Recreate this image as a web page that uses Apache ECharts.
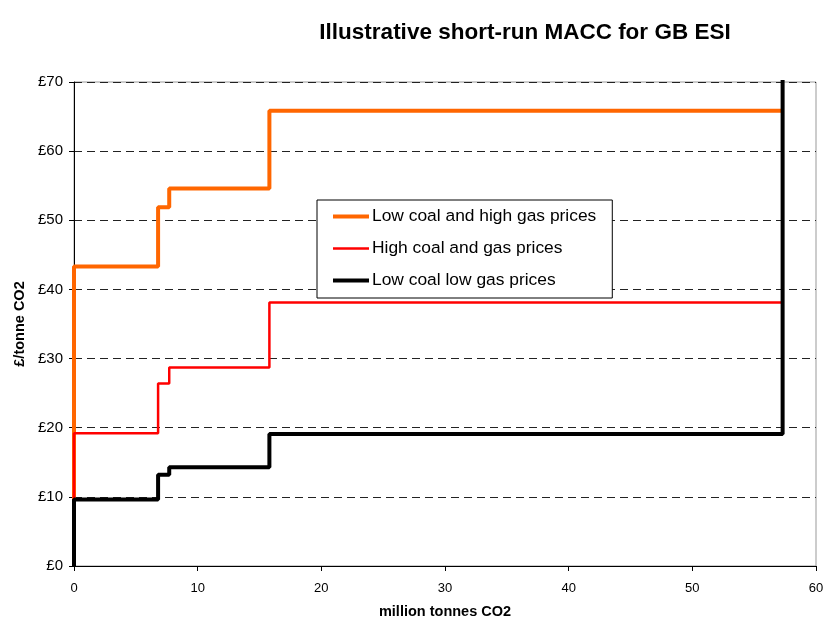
<!DOCTYPE html>
<html><head><meta charset="utf-8">
<script src="https://cdn.jsdelivr.net/npm/echarts@6/dist/echarts.min.js"></script>
<style>html,body{margin:0;padding:0;background:#fff}#c{width:823px;height:617px}</style>
</head><body><div id="c"></div>
<script>
const seriesNames = ['Low coal and high gas prices', 'High coal and gas prices', 'Low coal low gas prices'];
const orangeX = [0, 0, 6.8, 7.7, 15.8, 57.3];
const orangeY = [0, 43.3, 51.9, 54.6, 65.85, 65.85];
const redX = [0, 0, 6.8, 7.7, 15.8, 57.3];
const redY = [0, 19.2, 26.4, 28.7, 38.1, 38.1];
const blackX = [0, 0, 6.8, 7.7, 15.8, 57.3, 57.3];
const blackY = [0, 9.6, 13.2, 14.3, 19.1, 19.1, 75];
const yTicks = ['£0','£10','£20','£30','£40','£50','£60','£70'];

const zip = (xs, ys) => xs.map((x, i) => [x, ys[i]]);
const F = 'Liberation Sans, Arial, sans-serif';
const chart = echarts.init(document.getElementById('c'));
chart.setOption({
  animation: false,
  title: { text: 'Illustrative short-run MACC for GB ESI', left: 520, textAlign: 'center', top: 16,
    textStyle: { fontFamily: F, fontSize: 22.5, fontWeight: 'bold', color: '#000' } },
  grid: { left: 74, right: 7, top: 82, bottom: 51, show: true, borderColor: '#999', borderWidth: 1,
    outerBoundsMode: 'none', containLabel: false },
  legend: {
    orient: 'vertical', left: 317, top: 200,
    backgroundColor: '#fff', borderColor: '#000', borderWidth: 1,
    padding: [8, 16, 9, 16], itemGap: 15, itemWidth: 36, itemHeight: 18,
    textStyle: { fontFamily: F, fontSize: 17.4, color: '#000', padding: [0, 0, 0, -2] },
    data: [
      { name: seriesNames[0], icon: 'path://M0,0h36v4h-36z', itemStyle: { color: '#FF6600' } },
      { name: seriesNames[1], icon: 'path://M0,0h36v2.5h-36z', itemStyle: { color: '#FF0000' } },
      { name: seriesNames[2], icon: 'path://M0,0h36v4h-36z', itemStyle: { color: '#000' } }
    ]
  },
  xAxis: {
    type: 'value', min: 0, max: 60, interval: 10,
    name: 'million tonnes CO2', nameLocation: 'middle', nameGap: 38,
    nameTextStyle: { fontFamily: F, fontSize: 14.5, fontWeight: 'bold', color: '#000' },
    axisLine: { onZero: false, lineStyle: { color: '#000', width: 1 } },
    axisTick: { show: true, length: 5, lineStyle: { color: '#000' } },
    axisLabel: { fontFamily: F, fontSize: 13, color: '#000', margin: 16 },
    splitLine: { show: false }
  },
  yAxis: {
    type: 'value', min: 0, max: 70, interval: 10,
    name: '£/tonne CO2', nameLocation: 'middle', nameGap: 42, nameRotate: 90,
    nameTextStyle: { fontFamily: F, fontSize: 14.5, fontWeight: 'bold', color: '#000' },
    axisLine: { show: true, lineStyle: { color: '#000', width: 1 } },
    axisTick: { show: true, length: 5, lineStyle: { color: '#000' } },
    axisLabel: { fontFamily: F, fontSize: 15, color: '#000', margin: 11,
      formatter: v => yTicks[Math.round(v / 10)] },
    splitLine: { show: true, lineStyle: { color: '#222', type: [8, 5], width: 1 } }
  },
  series: [
    { name: seriesNames[0], type: 'line', step: 'end', showSymbol: false, symbol: 'none', clip: true,
      data: zip(orangeX, orangeY), lineStyle: { color: '#FF6600', width: 4 }, itemStyle: { color: '#FF6600' } },
    { name: seriesNames[1], type: 'line', step: 'end', showSymbol: false, symbol: 'none', clip: true,
      data: zip(redX, redY), lineStyle: { color: '#FF0000', width: 2.5 }, itemStyle: { color: '#FF0000' } },
    { name: seriesNames[2], type: 'line', step: 'end', showSymbol: false, symbol: 'none', clip: true,
      data: zip(blackX, blackY), lineStyle: { color: '#000', width: 4 }, itemStyle: { color: '#000' } }
  ]
});
</script></body></html>
